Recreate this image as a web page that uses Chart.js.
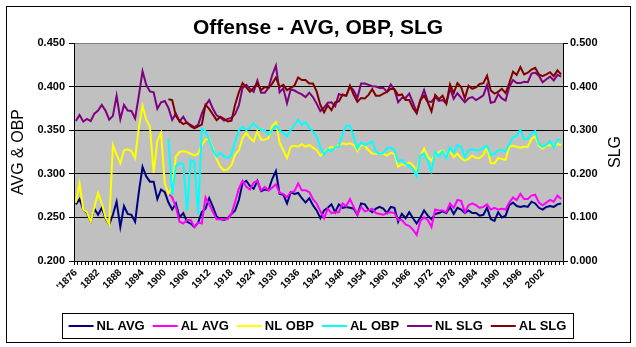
<!DOCTYPE html>
<html>
<head>
<meta charset="utf-8">
<script src="https://cdn.jsdelivr.net/npm/chart.js@4"></script>
<style>
  html, body { margin: 0; padding: 0; background: #fff; }
</style>
</head>
<body>
<canvas id="chart" width="636" height="347"></canvas>
<script>
// years on the category axis
const years = [];
for (let y = 1876; y <= 2007; y++) years.push(String(y));

// AL starts in 1901
const alPad = new Array(25).fill(null);

const nlAvg = [
  .265,.271,.259,.255,.245,.260,.253,.261,.249,.242,
  .253,.268,.239,.263,.254,.253,.245,.279,.308,.297,
  .291,.291,.271,.282,.279,.267,.259,.266,.250,.255,
  .245,.243,.239,.244,.256,.260,.272,.262,.251,.248,
  .247,.249,.254,.258,.270,.289,.292,.286,.283,.292,
  .280,.282,.281,.294,.303,.277,.276,.266,.279,.277,
  .278,.272,.267,.272,.264,.258,.249,.258,.261,.265,
  .256,.265,.261,.262,.261,.260,.253,.266,.265,.259,
  .256,.260,.262,.260,.255,.262,.261,.245,.254,.249,
  .256,.249,.243,.250,.258,.252,.248,.254,.255,.257,
  .255,.262,.254,.261,.259,.255,.258,.255,.255,.252,
  .253,.261,.248,.246,.256,.250,.252,.264,.267,.263,
  .262,.263,.262,.268,.266,.261,.259,.262,.263,.262,
  .265,.266
];

const alAvg = [
  .277,.273,.262,.245,.243,.247,.247,.239,.244,.243,
  .273,.265,.256,.248,.248,.248,.248,.254,.268,.283,
  .292,.285,.282,.290,.292,.281,.285,.281,.284,.288,
  .278,.277,.273,.279,.280,.289,.281,.281,.279,.271,
  .266,.257,.249,.260,.255,.256,.256,.266,.263,.271,
  .262,.253,.262,.257,.258,.260,.255,.254,.253,.255,
  .256,.255,.247,.247,.242,.240,.236,.230,.246,.250,
  .247,.239,.259,.258,.258,.256,.266,.261,.270,.269,
  .256,.264,.266,.264,.261,.262,.265,.259,.261,.259,
  .260,.259,.267,.273,.270,.277,.271,.271,.275,.276,
  .267,.264,.267,.270,.268,.275,.271
];

const nlObp = [
  .267,.289,.259,.256,.245,.262,.278,.266,.250,.242,
  .333,.322,.312,.327,.328,.326,.318,.353,.378,.362,
  .354,.301,.338,.347,.289,.277,.285,.320,.325,.326,
  .325,.323,.321,.323,.333,.339,.340,.329,.317,.308,
  .304,.305,.310,.322,.327,.341,.347,.341,.337,.349,
  .339,.339,.341,.355,.359,.336,.327,.318,.331,.332,
  .331,.334,.331,.333,.330,.327,.321,.324,.329,.331,
  .329,.333,.335,.334,.335,.333,.326,.333,.332,.327,
  .323,.323,.324,.323,.321,.324,.323,.308,.311,.310,
  .313,.310,.303,.320,.329,.320,.315,.322,.325,.327,
  .320,.326,.319,.323,.318,.315,.317,.321,.318,.318,
  .322,.330,.312,.312,.318,.317,.316,.331,.332,.331,
  .330,.331,.331,.340,.343,.332,.329,.332,.333,.332,
  .334,.333
];

const alObp = [
  .340,.276,.309,.312,.311,.257,.316,.314,.253,.352,
  .349,.339,.327,.320,.324,.320,.318,.322,.337,.350,
  .354,.350,.353,.358,.353,.350,.350,.345,.350,.355,
  .350,.347,.343,.350,.356,.362,.356,.359,.353,.348,
  .343,.330,.322,.328,.326,.330,.331,.346,.355,.355,
  .342,.329,.336,.333,.335,.337,.325,.323,.324,.329,
  .330,.327,.314,.316,.311,.309,.305,.297,.321,.323,
  .314,.303,.325,.320,.326,.318,.330,.324,.333,.331,
  .319,.327,.328,.327,.327,.330,.332,.322,.323,.327,
  .327,.326,.334,.342,.344,.350,.340,.340,.347,.349,
  .334,.331,.333,.338,.330,.339,.338
];

const nlSlg = [
  .321,.335,.320,.326,.321,.338,.345,.358,.345,.324,
  .333,.379,.325,.358,.345,.344,.327,.379,.435,.404,
  .389,.387,.349,.364,.367,.351,.324,.338,.320,.331,
  .316,.312,.307,.312,.338,.357,.369,.349,.334,.329,
  .322,.326,.328,.337,.357,.397,.404,.395,.388,.414,
  .386,.386,.397,.426,.448,.387,.396,.362,.394,.391,
  .386,.382,.376,.386,.376,.361,.344,.352,.363,.364,
  .355,.383,.380,.379,.401,.391,.374,.407,.407,.404,
  .401,.400,.397,.397,.388,.405,.393,.364,.374,.374,
  .384,.363,.341,.369,.392,.366,.365,.376,.367,.369,
  .361,.396,.372,.385,.374,.364,.373,.376,.369,.374,
  .380,.404,.363,.365,.383,.373,.368,.399,.415,.408,
  .408,.411,.410,.430,.432,.425,.410,.417,.423,.414,
  .427,.423
];

const alSlg = [
  .371,.369,.333,.321,.314,.318,.309,.304,.309,.313,
  .358,.349,.336,.323,.331,.326,.320,.322,.359,.387,
  .408,.398,.388,.397,.408,.392,.399,.397,.407,.421,
  .399,.404,.392,.397,.402,.421,.415,.415,.407,.407,
  .389,.358,.341,.357,.346,.364,.366,.382,.379,.402,
  .381,.365,.374,.373,.381,.394,.379,.379,.384,.388,
  .395,.394,.380,.382,.369,.369,.351,.339,.369,.379,
  .364,.343,.381,.371,.379,.361,.405,.385,.408,.399,
  .373,.402,.395,.398,.406,.408,.425,.391,.384,.388,
  .395,.385,.408,.434,.427,.445,.428,.432,.439,.443,
  .428,.424,.428,.433,.424,.437,.428
];

const seriesNames = ['NL AVG', 'AL AVG', 'NL OBP', 'AL OBP', 'NL SLG', 'AL SLG'];
const seriesColors = ['#000080', '#ff00ff', '#ffff00', '#00ffff', '#800080', '#800000'];
const seriesData = [nlAvg, alPad.concat(alAvg), nlObp, alPad.concat(alObp), nlSlg, alPad.concat(alSlg)];
const seriesAxis = ['y', 'y', 'y', 'y', 'y1', 'y1'];

const titleText = 'Offense - AVG, OBP, SLG';
const leftTitle = 'AVG & OBP';
const rightTitle = 'SLG';

const FONT = '"Liberation Sans", Arial, sans-serif';

const datasets = seriesNames.map((name, i) => ({
  label: name,
  data: seriesData[i],
  yAxisID: seriesAxis[i],
  borderColor: seriesColors[i],
  backgroundColor: seriesColors[i],
  borderWidth: 2,
  pointRadius: 0,
  tension: 0,
  spanGaps: false,
  order: 6 - i   // later series on top, like the original
}));

const decor = {
  id: 'decor',
  beforeDraw(chart) {
    const { ctx, chartArea: a } = chart;
    ctx.save();
    ctx.fillStyle = '#fff';
    ctx.fillRect(0, 0, chart.width, chart.height);
    ctx.fillStyle = '#c0c0c0';
    ctx.fillRect(a.left, a.top, a.right - a.left, a.bottom - a.top);
    ctx.restore();
  },
  afterDraw(chart) {
    const ctx = chart.ctx;
    ctx.save();
    // outer frame
    ctx.strokeStyle = '#000';
    ctx.lineWidth = 1;
    ctx.strokeRect(6.5, 6.5, 624, 336);

    ctx.fillStyle = '#000';
    ctx.textAlign = 'center';
    ctx.textBaseline = 'middle';
    ctx.font = 'bold 21px ' + FONT;
    ctx.fillText(titleText, 318, 28);

    ctx.font = '16px ' + FONT;
    ctx.save();
    ctx.translate(19, 152);
    ctx.rotate(-Math.PI / 2);
    ctx.fillText(leftTitle, 0, 0);
    ctx.restore();
    ctx.save();
    ctx.translate(616, 152);
    ctx.rotate(-Math.PI / 2);
    ctx.fillText(rightTitle, 0, 0);
    ctx.restore();

    // legend
    ctx.font = 'bold 13px ' + FONT;
    const lineLen = 25, gap = 3, itemGap = 8;
    const widths = seriesNames.map(n => ctx.measureText(n).width);
    let total = 0;
    widths.forEach(w => total += lineLen + gap + w + itemGap);
    total -= itemGap;
    const boxL = 62, boxR = 573, boxT = 313, boxB = 338;
    ctx.strokeRect(boxL + 0.5, boxT + 0.5, boxR - boxL, boxB - boxT);
    let x = (boxL + boxR) / 2 - total / 2;
    const cy = (boxT + boxB) / 2 + 0.5;
    ctx.textAlign = 'left';
    seriesNames.forEach((n, i) => {
      ctx.strokeStyle = seriesColors[i];
      ctx.lineWidth = 2;
      ctx.beginPath();
      ctx.moveTo(x, cy);
      ctx.lineTo(x + lineLen, cy);
      ctx.stroke();
      ctx.fillStyle = '#000';
      ctx.fillText(n, x + lineLen + gap, cy);
      x += lineLen + gap + widths[i] + itemGap;
    });
    ctx.restore();
  }
};

const ctx = document.getElementById('chart').getContext('2d');

const myChart = new Chart(ctx, {
  type: 'line',
  data: { labels: years, datasets: datasets },
  options: {
    responsive: false,
    animation: false,
    devicePixelRatio: 1,
    layout: { padding: { left: 30, right: 30, top: 43, bottom: 20 } },
    plugins: {
      legend: { display: false },
      title: { display: false },
      tooltip: { enabled: false }
    },
    scales: {
      x: {
        type: 'category',
        offset: true,
        grid: {
          offset: true,
          drawOnChartArea: false,
          tickLength: 4,
          color: '#000'
        },
        border: { color: '#000' },
        ticks: {
          autoSkip: false,
          maxRotation: 45,
          minRotation: 45,
          padding: 2,
          color: '#000',
          font: { family: FONT, size: 10, weight: 'bold' },
          callback: function (val, idx) {
            if (idx % 6 !== 0) return '';
            return idx === 0 ? "'" + years[0] : years[idx];
          }
        },
        afterFit: s => { s.height = 66; }
      },
      y: {
        position: 'left',
        min: 0.2,
        max: 0.45,
        ticks: {
          stepSize: 0.05,
          padding: 4,
          color: '#000',
          font: { family: FONT, size: 11, weight: 'bold' },
          callback: v => v.toFixed(3)
        },
        grid: {
          color: c => (c.tick && Math.abs(c.tick.value - 0.45) < 1e-6) ? '#808080' : '#000',
          tickColor: '#000',
          tickLength: 5
        },
        border: { color: '#000' },
        afterFit: s => { s.width = 44; }
      },
      y1: {
        position: 'right',
        min: 0,
        max: 0.5,
        ticks: {
          stepSize: 0.1,
          padding: 2,
          color: '#000',
          font: { family: FONT, size: 11, weight: 'bold' },
          callback: v => v.toFixed(3)
        },
        grid: {
          drawOnChartArea: false,
          color: '#000',
          tickLength: 5
        },
        border: { color: '#000' },
        afterFit: s => { s.width = 43; }
      }
    }
  },
  plugins: [decor]
});
</script>
</body>
</html>
